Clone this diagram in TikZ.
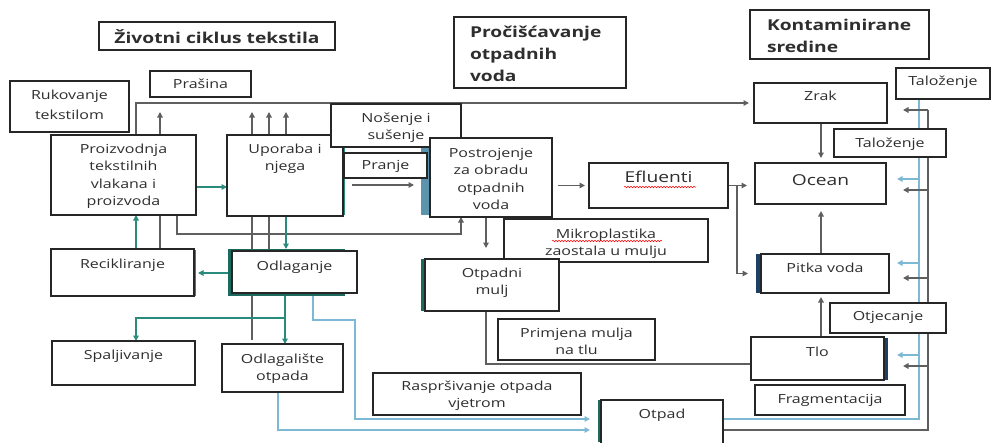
\documentclass[tikz,border=0pt]{standalone}
\usepackage{fontspec}
\setmainfont[FakeStretch=1.28]{Open Sans}
\usetikzlibrary{arrows.meta,decorations.pathmorphing}
\definecolor{lgray}{HTML}{5F5F5F}
\definecolor{tealc}{HTML}{2A8A7C}
\definecolor{lblue}{HTML}{7DB8D5}
\definecolor{dteal}{HTML}{1C6A5E}
\definecolor{barblue}{HTML}{5B94AC}
\definecolor{navyc}{HTML}{1E3F66}
\definecolor{edgec}{HTML}{262626}
\definecolor{txtc}{HTML}{2E2E2E}
\pgfdeclarelayer{back}
\pgfdeclarelayer{bg}
\pgfdeclarelayer{mid}
\pgfsetlayers{back,bg,mid,main}
\newcommand\bx[8]{\node[box, anchor=north west] (#1) at (#2,#3) {\parbox[c][\dimexpr#5pt-#3pt\relax][t]{\dimexpr#4pt-#2pt\relax}{#7\vspace*{#6pt}\strut #8\par}};}
\begin{document}
\begin{tikzpicture}[x=1pt,y=-1pt,
  box/.style={draw=edgec, line width=1.2pt, fill=white, inner sep=0pt, outer sep=0pt, text=txtc, font=\fontsize{12.5}{17.5}\selectfont},
  tip/.style={-{Triangle[length=5.5pt,width=5.5pt]}},
  g/.style={draw=lgray, line width=1.8pt},
  t/.style={draw=tealc, line width=1.8pt},
  b/.style={draw=lblue, line width=1.8pt},
  wavy/.style={draw=red, line width=0.5pt, decorate, decoration={snake, amplitude=0.8pt, segment length=3pt}}]
\begin{pgfonlayer}{back}
\fill[white] (0,0) rectangle (992,442);
\end{pgfonlayer}
\useasboundingbox (0,0) rectangle (992,442);

% ---------------- titles ----------------
\bx{t1}{99}{22}{335}{50}{5.6}{\centering\bfseries\fontsize{15}{22}\selectfont}{Životni ciklus tekstila}
\bx{t2}{454}{17}{626}{88}{4.6}{\raggedright\leftskip=16pt\bfseries\fontsize{15}{22}\selectfont}{Pročišćavanje\\otpadnih\\voda}
\bx{t3}{750}{10}{929}{59}{4.6}{\raggedright\leftskip=17pt\bfseries\fontsize{15}{22}\selectfont}{Kontaminirane\\sredine}

% ---------------- boxes ----------------
\bx{rukov}{10}{81}{129}{132}{5.75}{\centering}{Rukovanje\\[3pt]tekstilom}
\bx{prasina}{150}{71}{251}{97}{4.75}{\centering}{Prašina}
\bx{prod}{51}{135}{196}{215}{5.75}{\centering}{Proizvodnja\\tekstilnih\\vlakana i\\proizvoda}
\bx{upo}{227}{135}{343}{216}{5.75}{\centering}{Uporaba i\\njega}
\draw[tealc, line width=1pt] (344.5,147) -- (344.5,215);
\bx{nos}{331}{104}{461}{147}{5.75}{\centering}{Nošenje i\\sušenje}
\bx{pranje}{344}{153}{427}{178}{3.75}{\centering}{Pranje}
\bx{post}{430}{138}{552}{217}{6.75}{\centering}{Postrojenje\\za obradu\\otpadnih\\voda}
\bx{eflu}{589}{163}{728}{208}{6.75}{\centering\fontsize{15}{17.5}\selectfont}{Efluenti}
\bx{mikro}{504}{219}{708}{262}{6.75}{\centering}{Mikroplastika\\zaostala u mulju}
\bx{mulj}{425}{259}{559}{311}{5.75}{\centering}{Otpadni\\mulj}
\bx{primj}{498}{319}{655}{360}{5.75}{\centering}{Primjena mulja\\na tlu}
\bx{rasp}{373}{373}{581}{415}{4.75}{\centering}{Raspršivanje otpada\\vjetrom}
\bx{otpad}{601}{400}{723}{446}{5.75}{\centering}{Otpad}
\bx{rec}{51}{249}{194}{296}{6.75}{\centering}{Recikliranje}
\draw[tealc, line width=0.8pt] (195.5,250) -- (195.5,296);
\bx{odl}{232}{251}{357}{293}{6.75}{\centering}{Odlaganje}
\bx{spal}{52}{341}{195}{385}{5.75}{\centering}{Spaljivanje}
\bx{odl2}{222}{344}{343}{392}{6.75}{\centering}{Odlagalište\\otpada}
\bx{zrak}{754}{83}{887}{123}{4.75}{\centering}{Zrak}
\bx{tal1}{896}{68}{990}{99}{4.75}{\centering}{Taloženje}
\bx{tal2}{834}{129}{946}{157}{5.75}{\centering}{Taloženje}
\bx{ocean}{755}{163}{886}{204}{9.75}{\centering\fontsize{15}{17.5}\selectfont}{Ocean}
\bx{pitka}{761}{254}{889}{293}{5.75}{\centering}{Pitka voda}
\bx{otje}{830}{303}{946}{333}{4.75}{\centering}{Otjecanje}
\bx{tlo}{751}{337}{884}{380}{6.75}{\centering}{Tlo}
\bx{frag}{755}{385}{905}{415}{5.75}{\centering}{Fragmentacija}

% spell-check underlines
\draw[wavy] (624,187) -- (696,187);
\draw[wavy] (552,241) -- (662,241);

% ---------------- decorative bars / shadows ----------------
\begin{pgfonlayer}{mid}
\fill[dteal] (228,249) rectangle (345,296);
\fill[barblue] (421,147) rectangle (431,215);
\fill[dteal] (421,259) rectangle (426,311);
\fill[navyc] (756,254) rectangle (761,293);
\fill[navyc] (884,338) rectangle (888,380);
\fill[dteal] (598,400) rectangle (602,442);
\end{pgfonlayer}

% ---------------- connectors ----------------
\begin{pgfonlayer}{bg}
% gray
\draw[g,tip,shorten >=5pt] (prod.north -| 136,0) |- (zrak.west);
\draw[g,tip] (prod.north -| 160,0) -- ++(0,-23);
\foreach \xx in {252,269,286} \draw[g,tip] (upo.north -| \xx,0) -- ++(0,-23);
\draw[g] (prod.south -| 160,0) -- (rec.north -| 160,0);
\draw[g,tip] (prod.south -| 177,0) -- ++(0,19) -| (post.south -| 461,0);
\draw[g,shorten >=4pt] (upo.south -| 252,0) -- (odl2.north -| 252,0);
\draw[g] (upo.south -| 269,0) -- (odl.north -| 269,0);
\draw[g,tip,shorten <=9pt,shorten >=16pt] (upo.east |- 0,185) -- (post.west |- 0,185);
\draw[g,tip,shorten <=6pt,shorten >=4pt] (post.east |- eflu.west) -- (eflu.west);
\draw[g,tip,shorten >=8pt] (eflu.east) -- (eflu.east -| ocean.west);
\draw[g,tip,shorten >=13pt] (eflu.east -| 737,0) |- (pitka.west);
\draw[g,tip,shorten >=5pt] (zrak.south -| 821,0) -- (ocean.north -| 821,0);
\draw[g,tip,shorten >=7pt] (pitka.north -| 821,0) -- (ocean.south -| 821,0);
\draw[g,tip,shorten >=4pt] (tlo.north -| 821,0) -- (pitka.south -| 821,0);
\draw[g,tip,shorten >=11pt] (post.south -| 486,0) -- (mulj.north -| 486,0);
\draw[g] (mulj.south -| 486,0) |- (tlo.west |- 0,364);
% right side: light blue deposition
\draw[b] (otpad.east |- 0,419) -| (tal1.south -| 919,0) -- ([xshift=1pt]tal1.south west);
\draw[b,tip,shorten >=11pt] (919,179) -- (ocean.east |- 0,179);
\draw[b,tip,shorten >=8pt] (919,263) -- (pitka.east |- 0,263);
\draw[b,tip,shorten >=13pt] (919,355) -- (tlo.east |- 0,355);
% right side: gray
\draw[g] (otpad.east |- 0,430) -| (928,110);
\draw[g,tip,shorten >=16pt] (928,110) -- (zrak.east |- 0,110);
\draw[g,tip,shorten >=17pt] (928,190) -- (ocean.east |- 0,190);
\draw[g,tip,shorten >=14pt] (928,278) -- (pitka.east |- 0,278);
\draw[g,tip,shorten >=19pt] (928,366) -- (tlo.east |- 0,366);
% teal
\draw[t,tip] (rec.north -| 136,0) -- (prod.south -| 136,0);
\draw[t,tip] (prod.east |- 0,187) -- (upo.west |- 0,187);
\draw[t,tip,shorten >=2pt] (upo.south -| 286,0) -- (odl.north -| 286,0);
\draw[t,tip,shorten >=4pt] (odl.west |- 0,273) -- (rec.east |- 0,273);
\draw[t,tip] (odl.south -| 285,0) -- (odl2.north -| 285,0);
\draw[t,tip] (odl.south -| 285,0) -- ++(0,25) -| (spal.north -| 136,0);
% light blue to Otpad
\draw[b,tip,shorten >=11pt] (odl.south -| 313,0) |- (355,320) |- (otpad.west |- 0,419);
\draw[b,tip,shorten >=11pt] (odl2.south -| 278,0) |- (otpad.west |- 0,430);
\end{pgfonlayer}
\end{tikzpicture}
\end{document}
